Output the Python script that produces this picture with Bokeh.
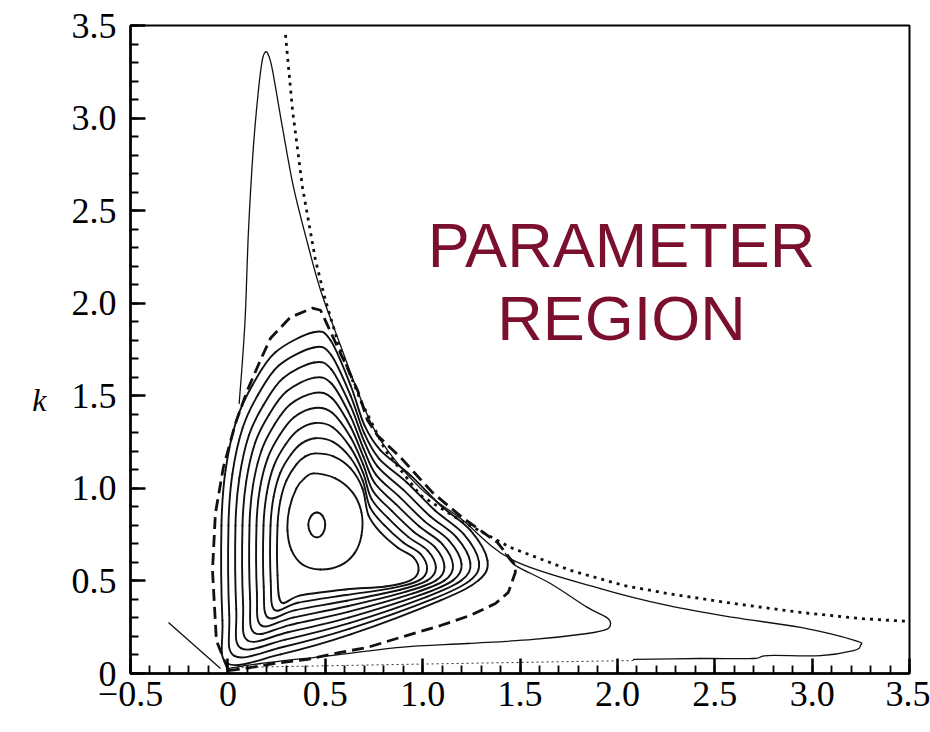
from bokeh.plotting import figure
from bokeh.models import Range1d, FixedTicker, Label, LinearAxis
from bokeh.embed import file_html
from bokeh.resources import INLINE

# ---------------- tick labels ----------------
x_ticks = [-0.5, 0.0, 0.5, 1.0, 1.5, 2.0, 2.5, 3.0, 3.5]
x_tick_labels = ["\u22120.5", "0", "0.5", "1.0", "1.5", "2.0", "2.5", "3.0", "3.5"]
y_ticks = [0.0, 0.5, 1.0, 1.5, 2.0, 2.5, 3.0, 3.5]
y_tick_labels = ["0", "0.5", "1.0", "1.5", "2.0", "2.5", "3.0", "3.5"]
x_minor = [round(-0.5 + 0.1 * i, 2) for i in range(41)]
y_minor = [round(0.1 * i, 2) for i in range(36)]
y_axis_label = "k"
y_axis_label_at = 1.476

# ---------------- dotted boundary ----------------
dot_x = [0.296, 0.332, 0.383, 0.450, 0.501, 0.578, 0.681, 0.809, 0.989, 1.194, 1.451,
         1.759, 2.031, 2.257, 2.596, 2.940, 3.248, 3.500]
dot_y = [3.449, 3.043, 2.627, 2.232, 2.016, 1.746, 1.476, 1.205, 0.962, 0.827, 0.681,
         0.557, 0.476, 0.432, 0.378, 0.330, 0.297, 0.281]

# ---------------- outer solid contour ----------------
outer_x = [0.058, 0.075, 0.090, 0.106, 0.131, 0.157, 0.177, 0.193, 0.208, 0.229, 0.280,
           0.337, 0.409, 0.476, 0.578, 0.681, 0.784, 0.989, 1.194, 1.466, 1.913, 2.257,
           2.596, 2.940, 3.222, 3.248, 3.212, 3.043, 2.771, 2.699, 2.427, 2.083]
outer_y = [1.459, 1.692, 1.946, 2.395, 2.843, 3.151, 3.314, 3.357, 3.341, 3.259, 2.951,
           2.627, 2.324, 2.070, 1.773, 1.486, 1.259, 1.000, 0.838, 0.611, 0.459, 0.368,
           0.303, 0.249, 0.178, 0.151, 0.124, 0.097, 0.097, 0.081, 0.081, 0.076]
base_x = [2.083, 0.886, 0.013]
base_y = [0.070, 0.049, 0.032]

# ---------------- lobe reaching k~0.27 at 2.0 ----------------
lobe_x = [1.425, 1.476, 1.656, 1.846, 1.944, 1.965, 1.944, 1.846, 1.569, 1.230, 0.886,
          0.527, 0.168, 0.003]
lobe_y = [0.649, 0.584, 0.486, 0.357, 0.303, 0.270, 0.238, 0.216, 0.184, 0.162, 0.141,
          0.097, 0.054, 0.027]

# ---------------- dashed contour (closed) ----------------
dash_x = [0.003, -0.059, -0.079, -0.064, -0.023, 0.039, 0.100, 0.167, 0.219, 0.321, 0.434,
          0.476, 0.578, 0.666, 0.717, 0.768, 0.886, 1.050, 1.209, 1.384, 1.476, 1.476,
          1.440, 1.374, 1.246, 1.092, 0.886, 0.717, 0.578, 0.409, 0.235, 0.091, 0.003]
dash_y = [0.016, 0.178, 0.557, 0.865, 1.114, 1.351, 1.530, 1.692, 1.811, 1.924, 1.973,
          1.962, 1.730, 1.530, 1.368, 1.286, 1.168, 0.978, 0.838, 0.708, 0.584, 0.546,
          0.438, 0.378, 0.314, 0.259, 0.195, 0.141, 0.114, 0.076, 0.054, 0.027, 0.016]

# ---------------- straight segment ----------------
seg_x = [-0.305, -0.038]
seg_y = [0.276, 0.027]

# ---------------- closed contours (innermost first) ----------------
c1_x = [0.457, 0.487, 0.500, 0.487, 0.457, 0.427, 0.413, 0.427]
c1_y = [0.870, 0.850, 0.803, 0.755, 0.735, 0.755, 0.803, 0.850]

c2_x = [0.441, 0.552, 0.640, 0.686, 0.686, 0.650, 0.578, 0.475, 0.383, 0.327, 0.306,
        0.316, 0.352, 0.393]
c2_y = [1.081, 1.054, 0.978, 0.870, 0.746, 0.649, 0.584, 0.562, 0.589, 0.665, 0.773,
        0.892, 1.000, 1.054]

c3_x = [0.275, 0.255, 0.255, 0.270, 0.301, 0.352, 0.398, 0.450, 0.542, 0.630, 0.691,
        0.722, 0.784, 0.871, 0.953, 0.979, 0.938, 0.809, 0.604, 0.373]
c3_y = [0.384, 0.530, 0.800, 0.935, 1.043, 1.130, 1.173, 1.189, 1.173, 1.108, 1.000,
        0.854, 0.762, 0.681, 0.627, 0.557, 0.503, 0.470, 0.454, 0.422]

c4_x = [0.240, 0.220, 0.219, 0.235, 0.269, 0.324, 0.379, 0.449, 0.540, 0.630, 0.692,
        0.730, 0.803, 0.899, 0.990, 1.023, 0.982, 0.844, 0.607, 0.360]
c4_y = [0.343, 0.499, 0.800, 0.955, 1.084, 1.183, 1.243, 1.271, 1.251, 1.164, 1.043,
        0.898, 0.801, 0.709, 0.645, 0.564, 0.503, 0.461, 0.424, 0.382]

c5_x = [0.206, 0.184, 0.183, 0.200, 0.237, 0.296, 0.360, 0.448, 0.538, 0.630, 0.694,
        0.738, 0.823, 0.926, 1.026, 1.068, 1.025, 0.880, 0.611, 0.347]
c5_y = [0.302, 0.469, 0.800, 0.976, 1.124, 1.237, 1.314, 1.353, 1.330, 1.220, 1.085,
        0.942, 0.839, 0.738, 0.664, 0.571, 0.503, 0.451, 0.393, 0.342]

c6_x = [0.171, 0.149, 0.147, 0.164, 0.205, 0.267, 0.340, 0.446, 0.536, 0.630, 0.695,
        0.745, 0.842, 0.954, 1.063, 1.112, 1.069, 0.915, 0.614, 0.334]
c6_y = [0.260, 0.439, 0.800, 0.996, 1.165, 1.290, 1.384, 1.434, 1.408, 1.276, 1.128,
        0.986, 0.878, 0.766, 0.682, 0.577, 0.503, 0.442, 0.363, 0.302]

c7_x = [0.137, 0.114, 0.111, 0.129, 0.173, 0.239, 0.321, 0.445, 0.535, 0.630, 0.696,
        0.753, 0.861, 0.982, 1.100, 1.156, 1.113, 0.951, 0.617, 0.322]
c7_y = [0.219, 0.408, 0.800, 1.016, 1.206, 1.344, 1.454, 1.516, 1.487, 1.333, 1.171,
        1.030, 0.916, 0.795, 0.700, 0.584, 0.503, 0.433, 0.333, 0.263]

c8_x = [0.102, 0.078, 0.075, 0.094, 0.140, 0.211, 0.302, 0.444, 0.533, 0.630, 0.697,
        0.761, 0.880, 1.009, 1.136, 1.200, 1.156, 0.986, 0.620, 0.309]
c8_y = [0.178, 0.378, 0.800, 1.036, 1.246, 1.397, 1.524, 1.598, 1.565, 1.389, 1.213,
        1.073, 0.955, 0.823, 0.718, 0.591, 0.503, 0.423, 0.302, 0.223]

c9_x = [0.067, 0.043, 0.039, 0.059, 0.108, 0.183, 0.283, 0.443, 0.531, 0.630, 0.699,
        0.769, 0.900, 1.037, 1.173, 1.245, 1.200, 1.021, 0.624, 0.296]
c9_y = [0.137, 0.347, 0.800, 1.057, 1.287, 1.450, 1.595, 1.680, 1.643, 1.445, 1.256,
        1.117, 0.993, 0.851, 0.737, 0.598, 0.503, 0.414, 0.272, 0.183]

c10_x = [0.033, 0.007, 0.003, 0.023, 0.076, 0.154, 0.263, 0.441, 0.529, 0.630, 0.700,
         0.776, 0.919, 1.064, 1.209, 1.289, 1.244, 1.057, 0.627, 0.283]
c10_y = [0.095, 0.317, 0.800, 1.077, 1.327, 1.504, 1.665, 1.761, 1.722, 1.501, 1.298,
         1.161, 1.032, 0.880, 0.755, 0.604, 0.503, 0.404, 0.242, 0.143]

c11_x = [-0.002, -0.028, -0.033, -0.012, 0.044, 0.126, 0.244, 0.440, 0.527, 0.630, 0.701,
         0.784, 0.938, 1.092, 1.246, 1.333, 1.287, 1.092, 0.630, 0.270]
c11_y = [0.054, 0.286, 0.800, 1.097, 1.368, 1.557, 1.735, 1.843, 1.800, 1.557, 1.341,
         1.205, 1.070, 0.908, 0.773, 0.611, 0.503, 0.395, 0.211, 0.103]

contours_x = [c1_x, c2_x, c3_x, c4_x, c5_x, c6_x, c7_x, c8_x, c9_x, c10_x, c11_x]
contours_y = [c1_y, c2_y, c3_y, c4_y, c5_y, c6_y, c7_y, c8_y, c9_y, c10_y, c11_y]

title_lines = ["PARAMETER", "REGION"]
title_x = [2.021, 2.021]
title_y = [2.314, 1.919]

# ---------------- figure ----------------
p = figure(width=930, height=732, x_range=Range1d(-0.5, 3.5), y_range=Range1d(0, 3.5),
           output_backend="svg", toolbar_location=None,
           min_border_left=130, min_border_right=21, min_border_top=25, min_border_bottom=59)
p.grid.visible = False
p.outline_line_color = "black"
p.outline_line_width = 2
p.background_fill_color = "white"
p.border_fill_color = "white"

p.xaxis.ticker = FixedTicker(ticks=x_ticks, minor_ticks=x_minor)
p.yaxis.ticker = FixedTicker(ticks=y_ticks, minor_ticks=y_minor)
p.xaxis.major_label_overrides = dict(zip(x_ticks, x_tick_labels))
p.yaxis.major_label_overrides = dict(zip(y_ticks, y_tick_labels))

for ax in (p.xaxis[0], p.yaxis[0]):
    ax.axis_line_width = 2.5
    ax.axis_line_color = "black"
    ax.major_tick_in = 15
    ax.major_tick_out = 0
    ax.minor_tick_in = 8
    ax.minor_tick_out = 0
    ax.major_tick_line_width = 2.5
    ax.minor_tick_line_width = 1.8
    ax.major_tick_line_color = "black"
    ax.minor_tick_line_color = "black"
    ax.major_label_text_font = "Liberation Serif"
    ax.major_label_text_font_size = "36px"
    ax.major_label_text_color = "black"
p.xaxis.major_label_standoff = 8
p.yaxis.major_label_standoff = 14

# "k" axis label, horizontal, at its own height
kax = LinearAxis(ticker=FixedTicker(ticks=[y_axis_label_at]),
                 major_label_overrides={y_axis_label_at: y_axis_label},
                 axis_line_color=None, major_tick_line_color=None, minor_tick_line_color=None,
                 major_label_text_font="Liberation Serif", major_label_text_font_style="italic",
                 major_label_text_font_size="32px", major_label_text_color="black",
                 major_label_standoff=16)
p.add_layout(kax, "left")


def smooth(xs, ys, closed=False, **kw):
    """Draw a smooth curve through the read points with the library's bezier glyph."""
    pts = list(zip(xs, ys))
    n = len(pts)
    nseg = n if closed else n - 1

    def P(i):
        if closed:
            return pts[i % n]
        return pts[min(max(i, 0), n - 1)]

    X0, Y0, X1, Y1, CX0, CY0, CX1, CY1 = [], [], [], [], [], [], [], []
    for i in range(nseg):
        p0, p1, p2, p3 = P(i - 1), P(i), P(i + 1), P(i + 2)
        X0.append(p1[0]); Y0.append(p1[1])
        X1.append(p2[0]); Y1.append(p2[1])
        CX0.append(p1[0] + (p2[0] - p0[0]) / 6.0); CY0.append(p1[1] + (p2[1] - p0[1]) / 6.0)
        CX1.append(p2[0] - (p3[0] - p1[0]) / 6.0); CY1.append(p2[1] - (p3[1] - p1[1]) / 6.0)
    p.bezier(x0=X0, y0=Y0, x1=X1, y1=Y1, cx0=CX0, cy0=CY0, cx1=CX1, cy1=CY1,
             line_cap="round", **kw)


for cx, cy in zip(contours_x, contours_y):
    smooth(cx, cy, closed=True, line_color="#111111", line_width=1.9)

p.line(dash_x, dash_y, line_color="#111111", line_width=2.8, line_dash="12 6",
       line_join="round")
smooth(outer_x, outer_y, line_color="#111111", line_width=1.3)
p.line(base_x, base_y, line_color="#333333", line_width=1.0, line_dash="2 3")
smooth(lobe_x, lobe_y, line_color="#111111", line_width=1.3)
p.line(dot_x, dot_y, line_color="#111111", line_width=2.8, line_dash="3 5")
p.line(seg_x, seg_y, line_color="#111111", line_width=1.3)

for t, tx, ty in zip(title_lines, title_x, title_y):
    p.add_layout(Label(x=tx, y=ty, text=t, text_align="center", text_baseline="middle",
                       text_font="Liberation Sans", text_font_size="63px",
                       text_color="#7a0f2e"))

open("out.html", "w").write(file_html(p, INLINE))
